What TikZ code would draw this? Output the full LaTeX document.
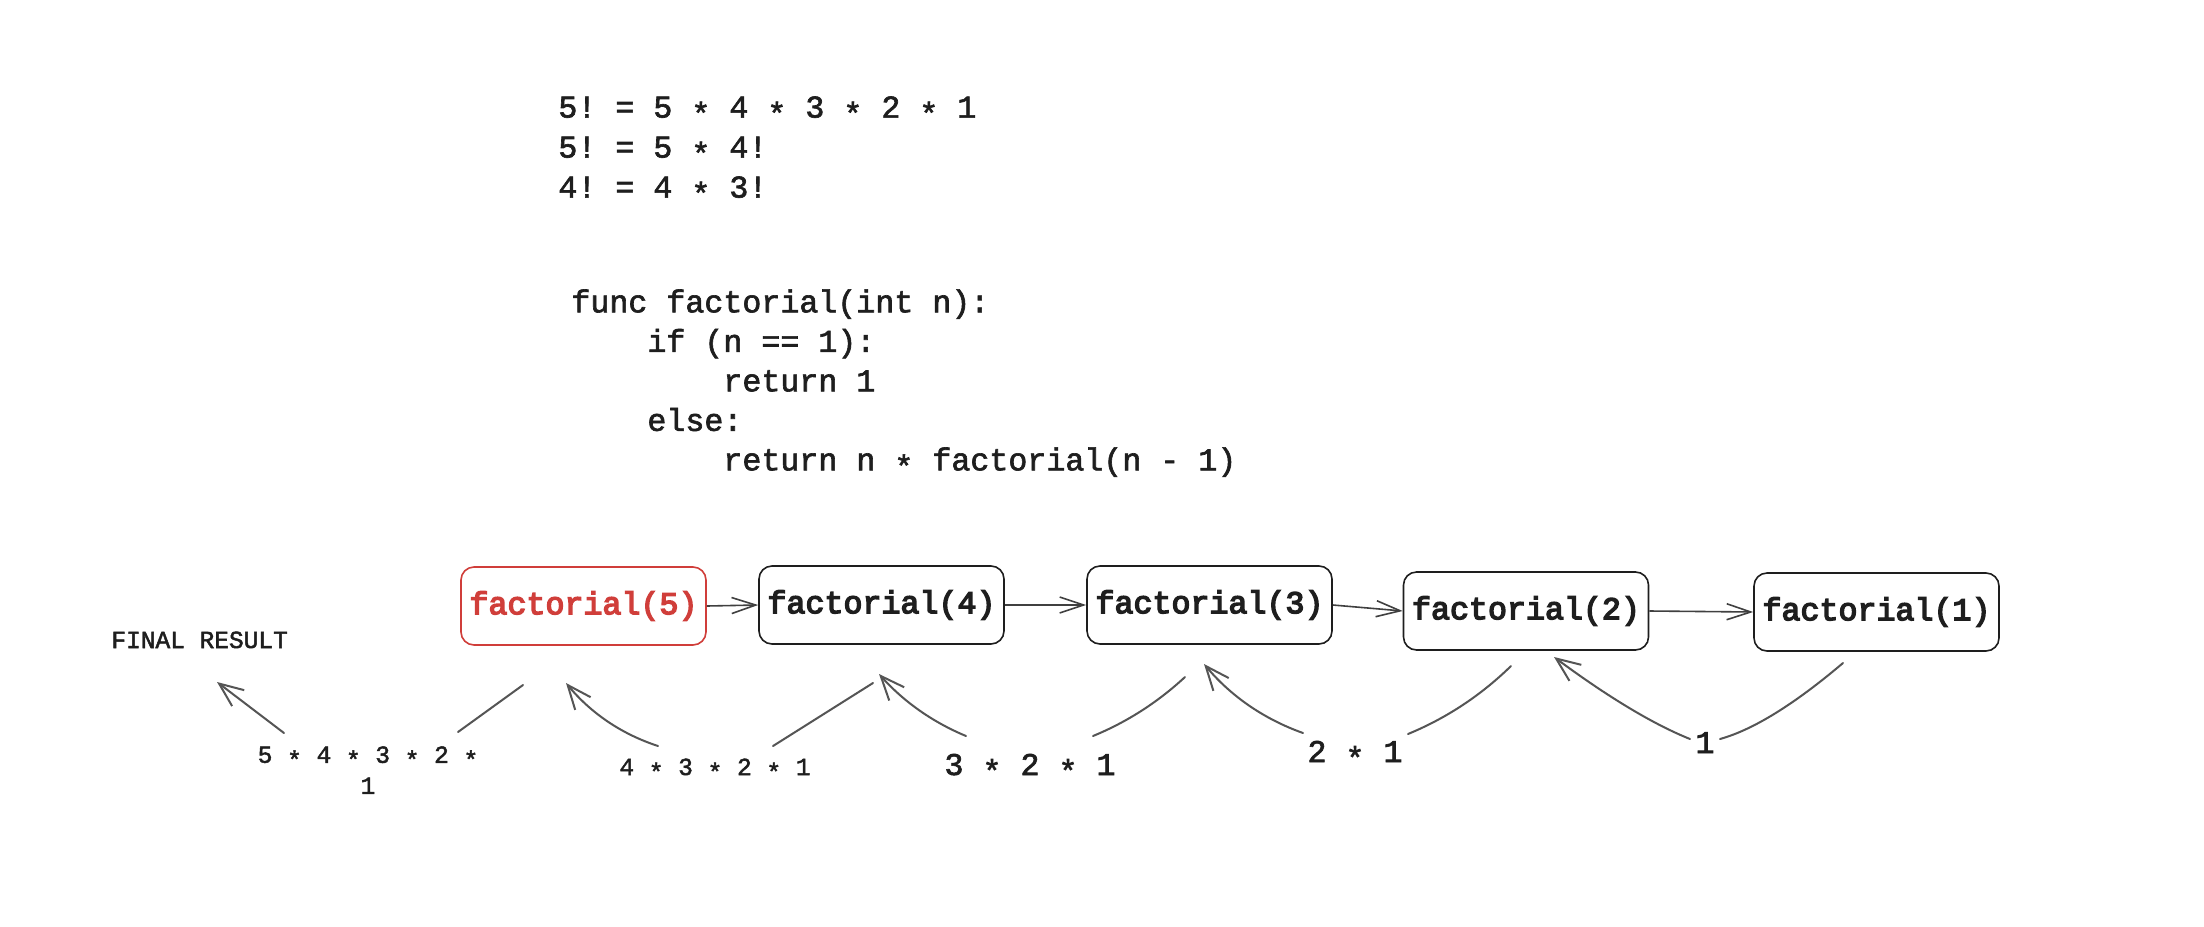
\documentclass[tikz,border=0pt]{standalone}
\usepackage{fontspec}
\usetikzlibrary{arrows.meta}
\newfontfamily\monof{Liberation Mono}[FakeBold=2]
\newfontfamily\monob{Liberation Mono}[FakeBold=4.5]
\definecolor{ink}{RGB}{30,30,30}
\definecolor{redc}{RGB}{208,62,58}
\definecolor{connc}{RGB}{85,85,85}
\newcommand{\stt}{\raisebox{-0.22em}{*}}
\begin{document}
\begin{tikzpicture}[x=0.5pt,y=-0.5pt,
  big/.style={font=\monof\fontsize{15.83}{20}\selectfont\frenchspacing, text=ink, inner sep=0pt},
  codetxt/.style={font=\monof\fontsize{15.83}{19.75}\selectfont\frenchspacing, text=ink, inner sep=0pt},
  small/.style={font=\monof\fontsize{12.25}{15.5}\selectfont\frenchspacing, text=ink, inner sep=0pt},
  fbox/.style={draw=ink, line width=0.8pt, rounded corners=6.5pt, minimum width=122.5pt, minimum height=39pt, inner sep=0pt, font=\monob\fontsize{15.83}{20}\selectfont, text=ink},
  flow/.style={draw=ink!85, line width=0.8pt, -{Straight Barb[length=12pt,width=8pt]}},
  conn/.style={draw=connc, line width=1pt, line cap=round},
  tip/.style={-{Straight Barb[length=12pt,width=10pt]}}
]
\fill[white] (0,0) rectangle (2204,926);
\useasboundingbox (0,0) rectangle (2204,926);

% text blocks
\node[big, align=left, anchor=north west] (eqs) at (558,96)
  {5! = 5 \stt{} 4 \stt{} 3 \stt{} 2 \stt{} 1\\5! = 5 \stt{} 4!\\4! = 4 \stt{} 3!};
\node[codetxt, align=left, anchor=north west] (code) at (571,289)
  {func factorial(int n):\\\hphantom{0000}if (n == 1):\\\hphantom{00000000}return 1\\\hphantom{0000}else:\\\hphantom{00000000}return n \stt{} factorial(n - 1)};

% call boxes
\node[fbox, draw=redc, text=redc] (f5) at (583.5,606) {factorial(5)};
\node[fbox] (f4) at (881.5,605) {factorial(4)};
\node[fbox] (f3) at (1209.5,605) {factorial(3)};
\node[fbox] (f2) at (1526,611) {factorial(2)};
\node[fbox] (f1) at (1876.5,612) {factorial(1)};

\draw[flow] (f5.east) -- (f4.west);
\draw[flow] (f4.east) -- (f3.west);
\draw[flow] (f3.east) -- (f2.west);
\draw[flow] (f2.east) -- (f1.west);

% result labels
\node[small, anchor=base west] (final) at (111,648) {FINAL RESULT};
\node[small, align=center, anchor=north] (r5) at (368,746) {5 \stt{} 4 \stt{} 3 \stt{} 2 \stt{}\\1};
\node[small, anchor=base] (r4) at (715,775) {4 \stt{} 3 \stt{} 2 \stt{} 1};
\node[big, anchor=base] (r3) at (1030,775) {3 \stt{} 2 \stt{} 1};
\node[big, anchor=base] (r2) at (1355,762) {2 \stt{} 1};
\node[big, anchor=base] (r1) at (1705,753) {1};

% return connectors
\coordinate (a0) at (284,733); \coordinate (a1) at (217,682);
\coordinate (b0) at (458,732); \coordinate (b1) at (523,685);
\coordinate (c0) at (658,746); \coordinate (c1) at (566,683);
\coordinate (d0) at (773,746); \coordinate (d1) at (873,683);
\coordinate (e0) at (966,736); \coordinate (e1) at (879,674);
\coordinate (g0) at (1093,736); \coordinate (g1) at (1185,677);
\coordinate (h0) at (1303,733); \coordinate (h1) at (1204,664);
\coordinate (i0) at (1408,734); \coordinate (i1) at (1511,666);
\coordinate (j0) at (1690,739); \coordinate (j1) at (1554,657);
\coordinate (k0) at (1720,739); \coordinate (k1) at (1843,663);

\draw[conn, tip] (a0) -- (a1);
\draw[conn] (b0) -- (b1);
\draw[conn, tip] (c0) .. controls (621.3,734) and (590.7,713) .. (c1);
\draw[conn] (d0) -- (d1);
\draw[conn, tip] (e0) .. controls (932.3,722) and (903.3,701.3) .. (e1);
\draw[conn] (g0) .. controls (1127,722) and (1157.7,702.3) .. (g1);
\draw[conn, tip] (h0) .. controls (1263.7,719) and (1230.7,696) .. (h1);
\draw[conn] (i0) .. controls (1446.7,718) and (1481,695.3) .. (i1);
\draw[conn, tip] (j0) .. controls (1653.3,724.3) and (1608,697) .. (j1);
\draw[conn] (k0) .. controls (1753.3,729.7) and (1794.3,704.3) .. (k1);
\end{tikzpicture}
\end{document}
